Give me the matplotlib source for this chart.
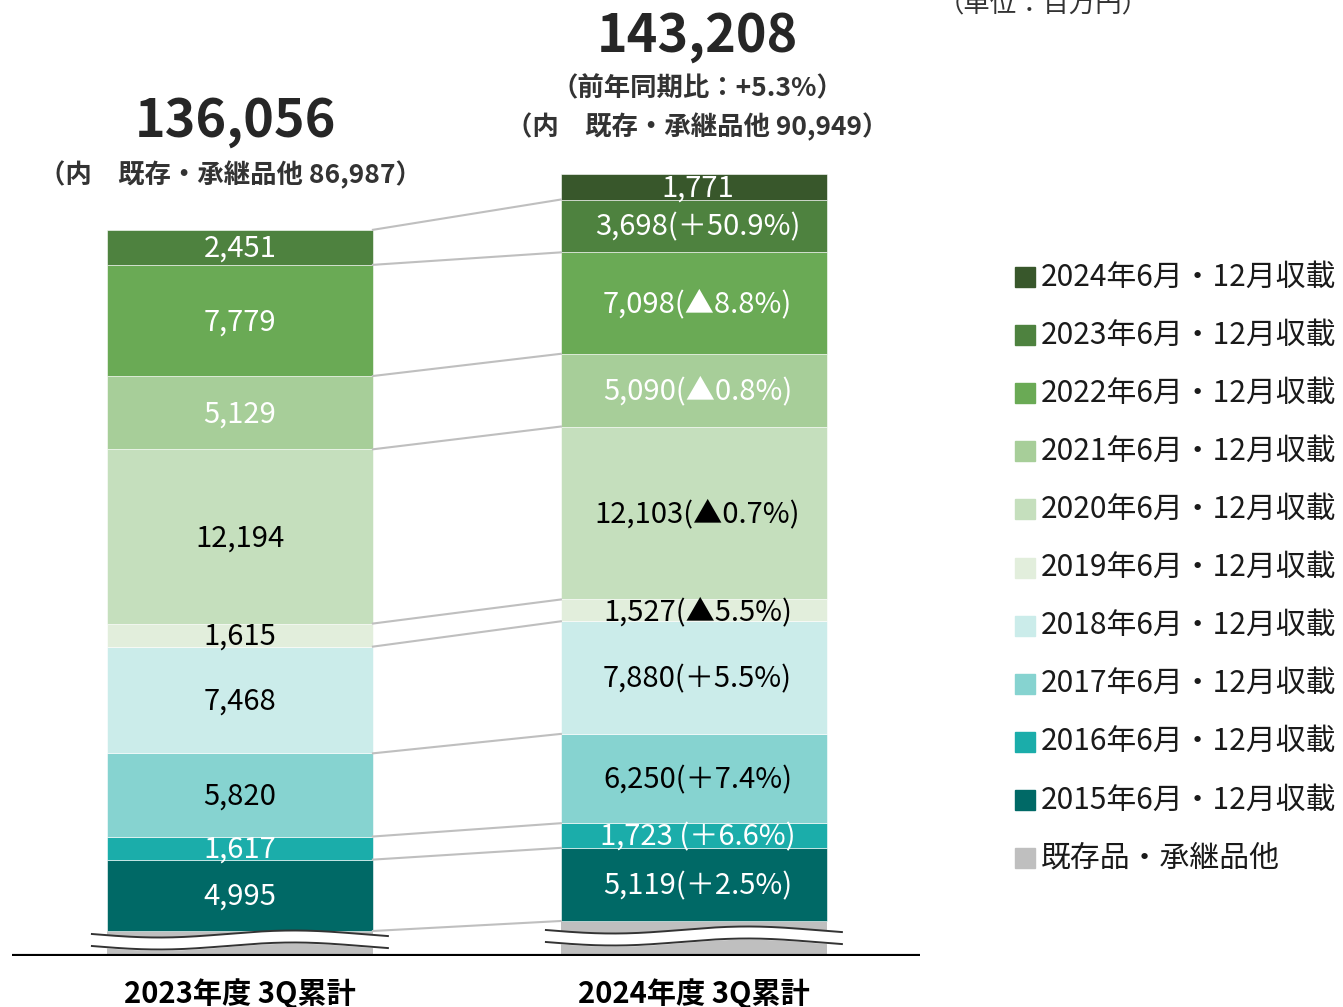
import matplotlib.pyplot as plt
import numpy as np
from matplotlib.patches import Rectangle
from matplotlib.transforms import blended_transform_factory

plt.rcParams['font.family'] = ['Noto Sans CJK JP', 'DejaVu Sans']

# data
periods = ['2023年度 3Q累計', '2024年度 3Q累計']
layers = [
    '2024年6月・12月収載', '2023年6月・12月収載', '2022年6月・12月収載',
    '2021年6月・12月収載', '2020年6月・12月収載', '2019年6月・12月収載',
    '2018年6月・12月収載', '2017年6月・12月収載', '2016年6月・12月収載',
    '2015年6月・12月収載',
]
base_label = '既存品・承継品他'
values_2023 = [0, 2451, 7779, 5129, 12194, 1615, 7468, 5820, 1617, 4995]
values_2024 = [1771, 3698, 7098, 5090, 12103, 1527, 7880, 6250, 1723, 5119]
changes_2024 = ['', '(＋50.9%)', '(▲8.8%)', '(▲0.8%)', '(▲0.7%)',
                '(▲5.5%)', '(＋5.5%)', '(＋7.4%)', ' (＋6.6%)', '(＋2.5%)']
base_values = [86987, 90949]
totals = [136056, 143208]
yoy_total = '+5.3%'
# part of the 既存品 block hidden by the axis break
base_hidden = [85237, 88499]

colors = ['#38572b', '#4e823f', '#6aaa55', '#a7ce99', '#c5dfbd', '#e2eedc',
          '#cbecea', '#86d3d0', '#1badaa', '#006966']
label_colors = ['white', 'white', 'white', 'white', 'black', 'black',
                'black', 'black', 'white', 'white']
base_color = '#bfbfbf'

fig = plt.figure(figsize=(13.43, 10.07), dpi=100)
ax = fig.add_axes([12 / 1343, 51 / 1007, 908 / 1343, 956 / 1007])
ax.set_xlim(-0.502, 1.498)
ax.set_ylim(0, 66900)
ax.axis('off')

x = np.arange(2)
width = 0.586
series = [values_2023, values_2024]

tops = []  # layer tops per bar
for i in range(2):
    shown = base_values[i] - base_hidden[i]
    ax.bar(x[i], shown, width, color=base_color)
    bottom = shown
    layer_tops = {'base': shown}
    for k in reversed(range(len(layers))):
        v = series[i][k]
        if v == 0:
            continue
        ax.bar(x[i], v, width, bottom=bottom, color=colors[k],
               edgecolor='white', linewidth=0.4)
        if i == 0:
            text = f'{v:,}'
        else:
            text = f'{v:,}{changes_2024[k]}'
        ax.text(x[i] + 0.008 * i, bottom + v / 2 - 120, text, ha='center',
                va='center', fontsize=21, color=label_colors[k])
        bottom += v
        layer_tops[k] = bottom
    tops.append(layer_tops)

# connector lines between bars
for key in ['base'] + list(range(len(layers))):
    if key in tops[0] and key in tops[1]:
        ax.plot([x[0] + width / 2, x[1] - width / 2],
                [tops[0][key], tops[1][key]], color='#bfbfbf', lw=1.5,
                zorder=1)

# axis break waves
px = 66900 / 956
wave_y = [(22, 10), (26, 14)]
for i in range(2):
    t = np.linspace(0, 1, 200)
    xs = x[i] - width / 2 - 0.033 + t * (width + 0.066)
    off = 3.5 * px * np.sin(2 * np.pi * (t * 1.1 + 0.5))
    y1 = wave_y[i][0] * px + off
    y2 = wave_y[i][1] * px + off
    ax.fill_between(xs, y2, y1, color='white', zorder=3)
    ax.plot(xs, y1, color='#333333', lw=1.4, zorder=4)
    ax.plot(xs, y2, color='#333333', lw=1.4, zorder=4)

ax.axhline(0, color='black', lw=3, zorder=5)

trans = blended_transform_factory(ax.transData, ax.transAxes)

# totals above bars
ax.text(x[0] - 0.01, 0.8724, f'{totals[0]:,}', transform=trans, ha='center',
        va='center', fontsize=37.5, fontweight='bold', color='#262626')
ax.text(x[0] - 0.02, 0.8169, f'（内　既存・承継品他 {base_values[0]:,}）',
        transform=trans, ha='center', va='center', fontsize=19,
        fontweight='bold', color='#333333')
ax.text(x[1] + 0.007, 0.9623, f'{totals[1]:,}', transform=trans,
        ha='center', va='center', fontsize=37.5, fontweight='bold',
        color='#262626')
ax.text(x[1] + 0.007, 0.9069, f'（前年同期比：{yoy_total}）', transform=trans,
        ha='center', va='center', fontsize=19, fontweight='bold',
        color='#333333')
ax.text(x[1] + 0.007, 0.8672, f'（内　既存・承継品他 {base_values[1]:,}）',
        transform=trans, ha='center', va='center', fontsize=19,
        fontweight='bold', color='#333333')

# category labels
for i in range(2):
    ax.text(x[i], -0.0397, periods[i], transform=trans, ha='center',
            va='center', fontsize=21, fontweight='bold', color='black')

fig.text(938 / 1343, 1 - 5 / 1007, '（単位：百万円）', ha='left', va='center',
         fontsize=19, color='#333333')

# legend
legend_labels = layers + [base_label]
legend_colors = colors + [base_color]
for j, (lab, c) in enumerate(zip(legend_labels, legend_colors)):
    yc = 277 + j * 58.1
    fig.patches.append(Rectangle((1015 / 1343, 1 - (yc + 10) / 1007),
                                 20 / 1343, 20 / 1007, color=c,
                                 transform=fig.transFigure))
    fig.text(1041 / 1343, 1 - yc / 1007, lab, ha='left', va='center',
             fontsize=21.5, color='#1a1a1a')

fig.savefig('out.png', dpi=100)
